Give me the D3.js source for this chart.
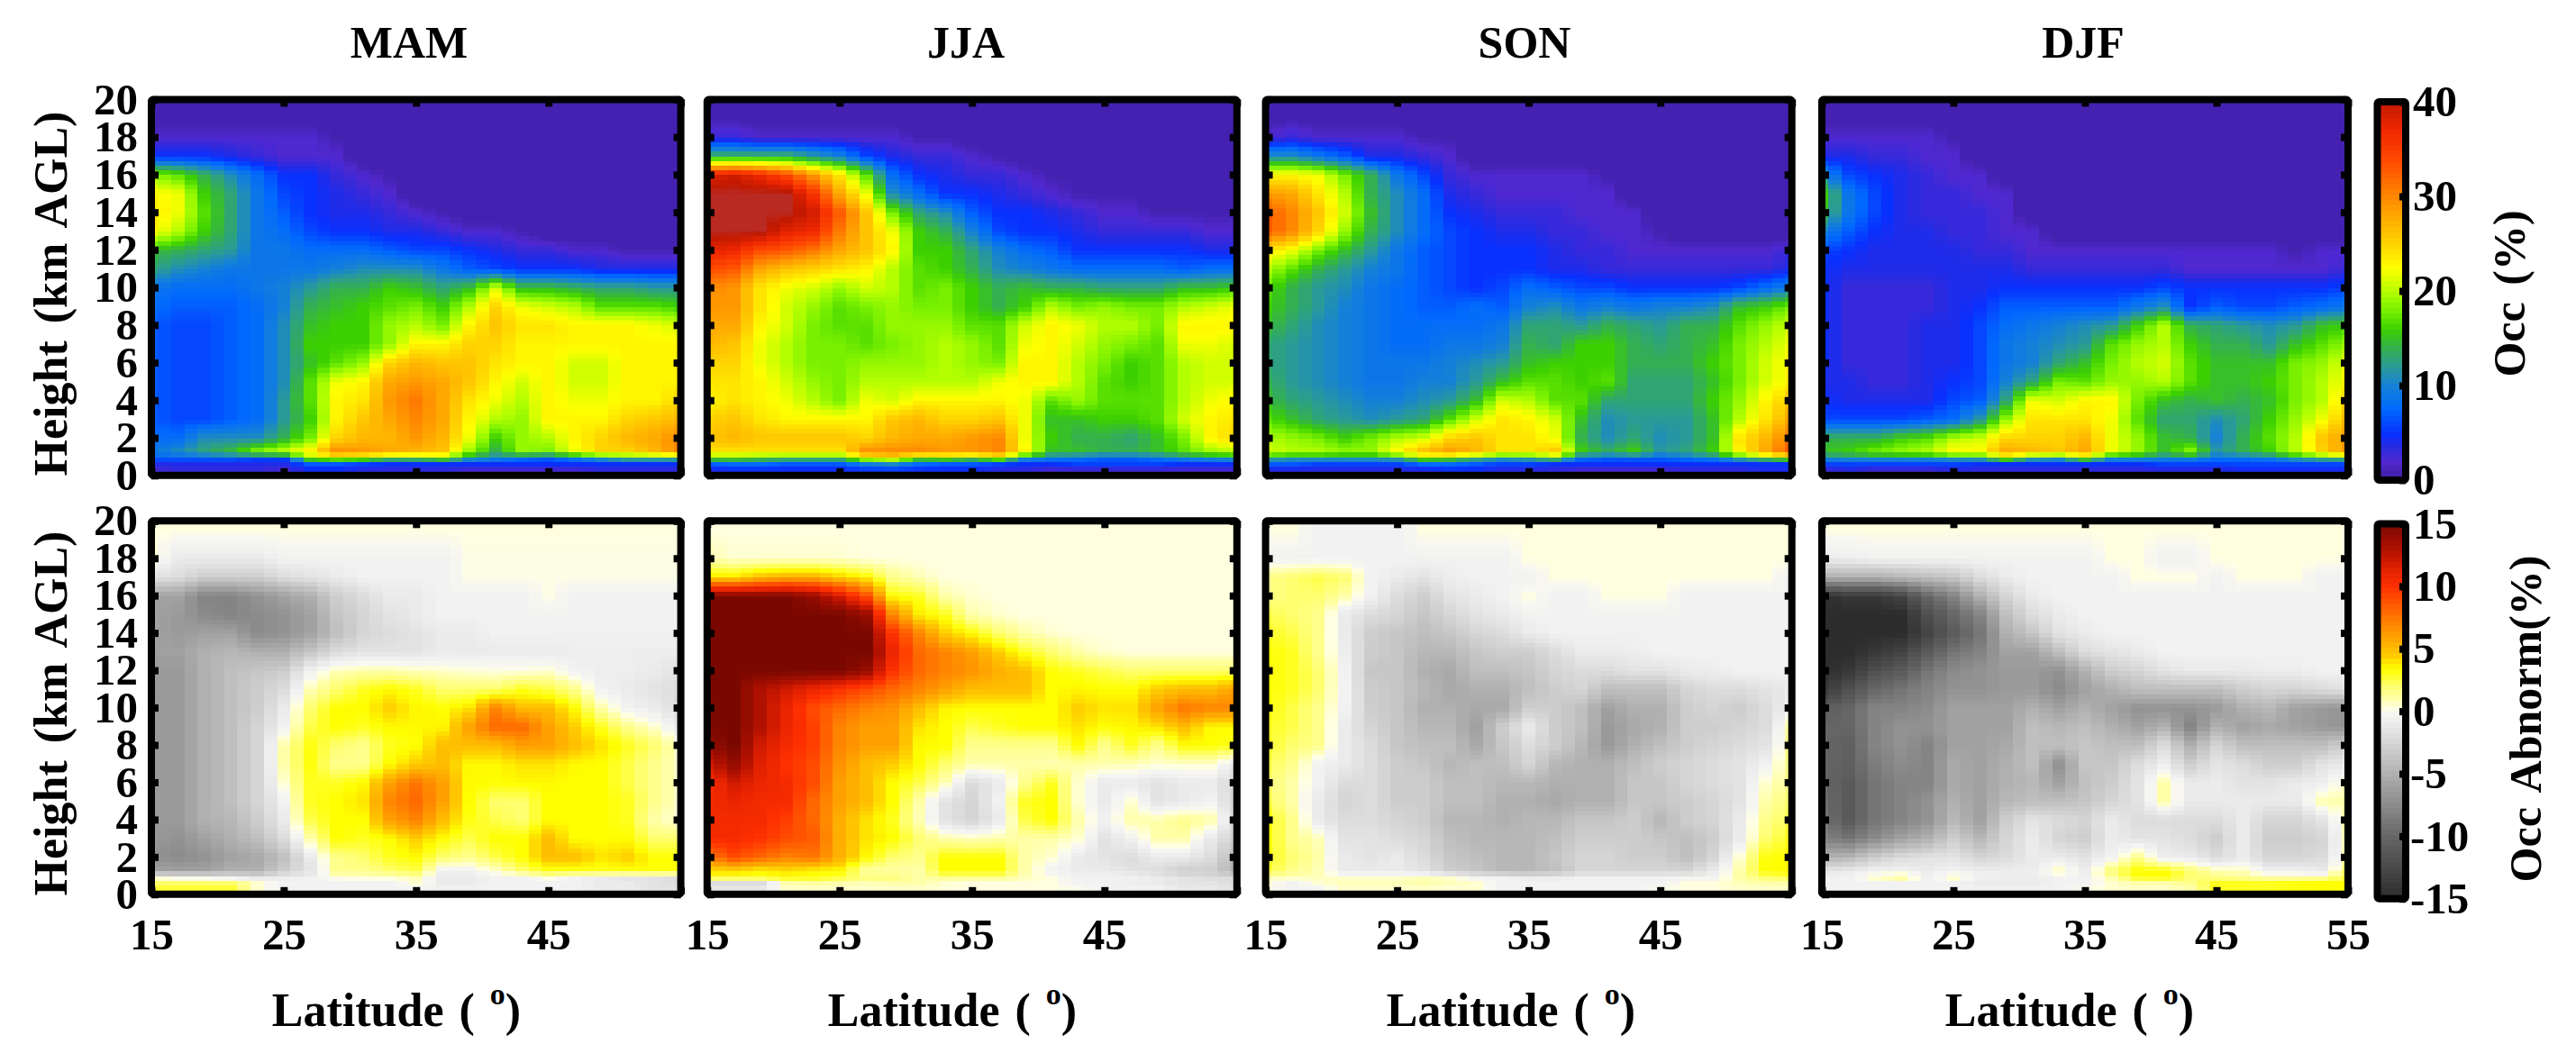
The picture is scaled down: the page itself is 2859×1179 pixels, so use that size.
<!DOCTYPE html>
<html>
<head>
<meta charset="utf-8">
<script src="https://cdn.jsdelivr.net/npm/d3@7"></script>
<style>
  html, body { margin: 0; background: #fff; }
  text { font-family: "Liberation Serif", serif; font-weight: bold; fill: #000; }
</style>
</head>
<body>
<div id="chart"></div>
<script>
// Seasonal occurrence (top row) and its abnormality (bottom row), latitude vs height

const seasons = ["MAM", "JJA", "SON", "DJF"];
const lats = [15,17,19,21,23,25,27,29,31,33,35,37,39,41,43,45,47,49,51,53,55];
// rows of every grid below run from the top of the panel down
const heights = [19.5,18,17,16,15,14,13,12,11,10,9,8,7,6,5,4,3,2,1.25,0.95,0.65,0.25];
const latTicks = [15,25,35,45,55];
const heightTicks = [0,2,4,6,8,10,12,14,16,18,20];
const occTicks = [0,10,20,30,40];
const abnTicks = [-15,-10,-5,0,5,10,15];

const occMAM = [
[0,0,0,0,0,0,0,0,0,0,0,0,0,0,0,0,0,0,0,0,0],
[2,2,2,2,2,2,2,1,0,0,0,0,0,0,0,0,0,0,0,0,0],
[5,5,5,4,3,2,2,2,0,0,0,0,0,0,0,0,0,0,0,0,0],
[19,17,14,11,8,5,5,3,2,1,0,0,0,0,0,0,0,0,0,0,0],
[23,22,16,13,9,6,5,4,3,2,0,0,0,0,0,0,0,0,0,0,0],
[24,22,17,13,9,7,5,4,4,3,2,1,0,0,0,0,0,0,0,0,0],
[23,20,16,13,9,8,6,5,5,4,4,3,2,2,1,0,0,0,0,0,0],
[15,14,13,12,9,9,8,8,8,7,6,6,5,4,3,3,2,2,1,1,1],
[13,11,10,9,9,9,9,10,11,11,11,9,7,6,5,5,5,4,4,4,4],
[9,8,8,8,9,10,12,14,14,16,15,13,15,21,15,15,14,13,13,12,12],
[8,7,7,7,8,10,14,15,16,17,18,16,20,25,22,21,20,17,17,17,16],
[7,6,6,7,8,11,15,16,16,19,20,18,23,26,24,24,23,23,23,22,21],
[7,6,6,7,8,11,16,16,16,19,23,23,25,25,23,23,23,23,23,23,23],
[7,6,6,7,8,11,15,17,19,25,27,26,26,24,23,23,21,21,23,23,23],
[7,6,6,7,8,11,17,22,23,28,29,28,26,23,21,23,21,21,23,23,23],
[7,6,6,7,8,12,17,23,24,29,31,28,24,22,20,23,22,22,23,23,25],
[7,6,6,7,8,12,16,23,26,28,30,28,23,20,19,23,23,23,25,26,27],
[8,8,11,11,11,14,18,25,27,27,29,27,22,16,19,20,23,25,27,28,30],
[9,11,13,15,19,21,24,30,29,28,27,26,19,14,19,18,22,25,25,27,30],
[7,7,7,7,6,6,18,20,19,16,16,18,12,10,8,7,9,12,14,14,14],
[4,4,4,4,4,4,7,7,6,5,5,5,5,5,5,5,5,5,5,5,5],
[2,3,3,3,3,2,4,4,3,3,3,3,2,2,2,2,2,3,3,3,3]];

const occJJA = [
[0,0,0,0,0,0,0,0,0,0,0,0,0,0,0,0,0,0,0,0,0],
[3,3,2,2,2,2,2,2,1,1,0,0,0,0,0,0,0,0,0,0,0],
[14,14,14,14,12,10,6,4,3,3,2,1,0,0,0,0,0,0,0,0,0],
[38,39,37,34,29,24,17,8,5,4,3,3,2,1,1,0,0,0,0,0,0],
[41,41,41,41,36,28,22,11,8,5,5,4,3,2,1,1,1,0,0,0,0],
[41,41,41,41,39,33,26,18,13,11,7,5,5,4,3,2,2,1,1,1,1],
[41,41,41,38,37,31,26,22,16,14,10,6,5,5,4,3,3,3,3,2,2],
[38,37,34,33,31,28,26,23,16,16,13,10,8,7,5,5,5,5,5,4,4],
[34,33,28,26,25,24,23,20,17,16,14,11,10,9,8,8,8,8,7,8,8],
[30,29,24,22,21,19,21,20,17,18,16,14,15,14,14,13,13,13,15,15,16],
[29,29,24,21,19,17,18,19,18,18,16,14,16,20,18,19,18,18,20,21,22],
[28,28,23,21,18,17,17,19,19,19,17,17,21,23,22,20,20,18,23,23,23],
[27,26,22,20,18,18,17,18,19,20,19,17,22,23,21,19,18,17,22,22,21],
[25,25,22,20,18,18,19,19,19,20,19,18,23,23,20,18,16,17,20,21,21],
[24,24,23,21,19,18,20,20,20,20,20,22,23,23,20,17,16,17,20,21,21],
[23,24,23,22,20,18,22,21,23,23,23,23,22,17,19,17,17,17,20,22,23],
[25,26,24,23,23,23,23,26,27,25,25,26,22,15,15,16,16,17,21,23,24],
[26,27,26,26,26,26,25,27,28,28,29,30,22,16,14,14,13,15,18,23,25],
[24,24,24,24,24,24,30,30,30,29,29,30,23,15,15,14,14,15,17,19,20],
[17,17,16,15,15,15,21,23,17,18,16,20,11,9,8,7,7,8,10,11,12],
[7,8,8,7,7,7,10,11,8,7,7,6,5,5,6,6,6,6,5,5,5],
[3,4,4,4,4,4,4,4,4,4,4,3,3,2,2,2,2,2,2,2,2]];

const occSON = [
[0,0,0,0,0,0,0,0,0,0,0,0,0,0,0,0,0,0,0,0,0],
[2,3,2,2,2,2,1,1,0,0,0,0,0,0,0,0,0,0,0,0,0],
[11,11,9,7,4,4,3,2,0,0,0,0,0,0,0,0,0,0,0,0,0],
[23,23,22,18,14,9,6,3,2,2,2,2,2,1,0,0,0,0,0,0,0],
[29,28,24,20,14,11,8,4,3,2,2,2,2,2,0,0,0,0,0,0,0],
[33,30,26,21,15,11,8,5,4,3,3,3,2,2,2,0,0,0,0,0,0],
[33,30,25,19,14,11,8,6,5,4,4,3,3,2,2,1,0,0,0,0,0],
[24,22,18,15,12,9,7,6,5,5,5,4,3,3,2,2,2,2,2,2,3],
[20,17,14,12,10,9,7,6,5,5,5,4,4,3,3,3,3,3,3,3,4],
[17,14,12,11,9,8,7,6,5,6,8,7,6,6,5,5,5,5,6,8,10],
[16,14,12,10,9,8,7,7,8,7,10,11,9,10,9,10,10,11,15,16,18],
[15,13,11,10,9,8,8,8,8,9,13,13,12,14,13,12,14,14,17,19,21],
[13,12,11,10,9,8,8,9,9,10,14,13,16,16,14,13,14,15,18,20,22],
[13,12,11,10,9,9,9,10,11,12,15,16,16,16,14,14,14,16,18,21,23],
[14,12,11,10,9,9,10,10,12,15,17,17,16,17,13,13,13,15,18,21,23],
[15,13,12,11,10,10,11,12,15,21,20,17,17,13,13,13,13,16,19,23,26],
[17,15,13,12,11,12,13,17,21,24,23,21,15,11,12,12,12,15,20,24,28],
[20,19,18,16,18,20,21,25,26,24,24,22,14,11,13,11,12,15,24,27,31],
[21,20,20,19,19,23,27,29,27,24,24,26,16,14,16,12,13,16,23,28,33],
[13,12,12,12,12,13,18,17,14,12,13,16,8,7,7,7,8,9,13,16,19],
[7,7,6,6,6,6,8,8,7,6,6,5,5,5,5,5,5,5,5,5,5],
[3,3,3,3,3,3,3,4,4,3,3,3,2,2,2,2,3,3,3,4,4]];

const occDJF = [
[0,0,0,0,0,0,0,0,0,0,0,0,0,0,0,0,0,0,0,0,0],
[2,2,2,2,2,1,0,0,0,0,0,0,0,0,0,0,0,0,0,0,0],
[4,4,3,3,2,2,0,0,0,0,0,0,0,0,0,0,0,0,0,0,0],
[11,6,5,4,3,2,2,0,0,0,0,0,0,0,0,0,0,0,0,0,0],
[16,9,6,4,3,3,2,2,0,0,0,0,0,0,0,0,0,0,0,0,0],
[15,9,6,4,3,3,3,2,0,0,0,0,0,0,0,0,0,0,0,0,0],
[10,7,5,4,4,3,3,2,2,0,0,0,0,0,0,0,0,0,0,0,0],
[6,5,4,4,4,4,3,3,2,2,2,2,2,2,2,2,2,2,1,2,2],
[5,4,4,4,4,4,4,4,3,3,3,3,3,3,2,2,2,2,2,2,3],
[5,3,3,3,3,4,4,5,5,5,5,5,5,6,5,5,5,5,5,5,6],
[5,3,3,3,3,4,5,7,7,7,7,7,9,11,5,7,6,6,7,8,9],
[5,3,3,3,4,4,6,8,9,10,11,12,16,20,14,13,12,11,12,15,16],
[5,3,3,3,4,4,6,9,10,11,12,17,19,20,16,14,14,12,15,17,19],
[5,3,3,3,4,4,6,9,10,13,15,18,20,21,17,15,15,15,18,19,22],
[4,4,3,3,4,5,6,10,13,18,17,19,19,20,17,15,15,16,18,20,23],
[5,4,4,4,4,6,7,13,22,21,23,23,18,15,14,15,14,15,18,20,25],
[6,6,6,6,7,8,12,19,24,24,24,22,17,13,13,11,13,16,19,22,27],
[14,14,14,16,17,20,21,25,25,25,27,22,19,15,14,10,14,17,20,26,29],
[15,16,18,19,20,23,23,28,27,26,28,22,19,15,19,12,14,16,20,25,29],
[10,11,11,11,11,12,13,19,13,12,18,11,11,10,10,8,8,9,12,14,15],
[6,6,6,6,6,6,5,5,5,5,5,5,5,6,6,6,6,6,6,6,6],
[2,3,2,2,2,3,3,3,3,3,3,3,3,3,3,3,4,4,4,4,4]];

const abnMAM = [
[.3,.3,.3,.3,.3,.3,.3,.3,.3,.3,.3,.3,.3,.3,.3,.3,.3,.3,.3,.3,.3],
[.5,-1,-1,-1,-1,-.5,-.5,-.5,-.5,-.5,-.5,-.5,.2,.2,.2,.2,.2,.2,.2,.2,.2],
[-1.5,-2,-3,-3,-3,-2,-1.5,-1,-.5,-.5,-.5,-.5,.2,.2,.2,.2,.2,.2,.2,.2,.2],
[-6,-6,-8,-8,-7,-6,-5,-3,-2,-1,-1,-.5,-.5,-.5,-.5,.2,-.5,-.5,-.5,-.5,-.5],
[-6,-6.5,-7.5,-8,-7.5,-7,-6,-3.5,-2.5,-1.5,-1,-.5,-.5,-.5,-.5,-.5,-.5,-.5,-.5,-.5,-.5],
[-6,-6.5,-6,-6,-7.5,-7,-6,-4,-2.5,-2,-1.5,-1,-1,-.5,-.5,-.5,-.5,-.5,-.5,-.5,-.5],
[-6,-6,-5,-4.5,-5,-5,-3.5,-2,-1.5,-1.5,-1.5,-1,-1,-1,-1,-1,-.8,-.8,-.8,-.8,-.8],
[-6.5,-6.5,-5,-4,-3.5,-3,-.5,.8,1,1,.8,.6,.4,.3,.3,.5,-.5,-.8,-.8,-1,-1.5],
[-6.5,-6.5,-5,-4,-3,-2,.8,2,3,3.5,3,2,2,2,3,2.5,1.5,-.5,-1,-1.5,-2],
[-6.5,-6.5,-5,-4,-3,-1,2,3.4,3.5,4.5,3.6,3.4,4,7,5,5,3.4,1,-.5,-1,-2],
[-6.5,-6.5,-5,-4,-2.5,-.5,2.5,3.4,3,3.5,3.5,3.6,6,8,8,6,4.5,3,1.5,.5,-1],
[-6.5,-6.5,-5,-4,-2.5,1,3.2,2,1.5,3,3.4,5,5,5,6,6,5,4,3,2,.5],
[-6.5,-6.5,-5,-4,-2.5,1,3.2,1.5,1.5,3.4,4.5,5,3.5,3.5,4,4,3.5,3.4,2.5,1.5,.5],
[-6.5,-6.5,-5,-4,-2.5,.5,3,3,3.5,6,7.5,6,3.5,3.4,3.5,3.5,3.4,3.4,2.5,1.5,.5],
[-6.5,-6.5,-5,-4,-2.5,-.5,3,3.4,4,7,8,6,3.4,2,2,3.4,3.4,3.4,3,1.5,.5],
[-6.5,-6.5,-5,-4.5,-3,-1,2.5,3.4,3.4,6,7,5,3.2,2.5,2,3.4,3.4,3.4,3,1,.3],
[-6.5,-7,-6,-5,-4,-2,1,3.4,3,3.4,4.5,3.4,2.5,3.4,3.4,5,3.4,3.4,3.4,2,2],
[-7,-7.5,-7,-6,-5.5,-4,-1,1.5,2,3,3.4,2,1.5,2.5,3.4,5,5,4,4.5,3.4,3.4],
[-6,-6,-6,-5,-5,-3,-1.5,1.5,1.5,2,2.5,-.5,-.5,.5,2,3,3,3,3.2,3.4,3.4],
[.3,-.5,-.5,-1,-1.5,-1,-.5,.3,.5,.5,.8,-1,-1,-.5,-.5,.5,-.5,-1,-1.5,-1.5,-2],
[2,2,2,2,.5,-.5,-.5,-.5,-.5,-.5,.5,-1,-1,-.5,-.5,-.5,-.5,-1,-1,-1.5,-2],
[3,3,3,3,.5,-.5,-.5,-.5,-.5,-.5,-.5,-.5,-.5,-.5,-.5,-.5,-.5,-1,-1,-1.5,-1.5]];

const abnJJA = [
[.3,.3,.3,.3,.3,.3,.3,.3,.3,.3,.3,.3,.3,.3,.3,.3,.3,.3,.3,.3,.3],
[1,.5,.5,.5,.5,.5,.3,.3,.3,.3,.3,.3,.3,.3,.3,.3,.3,.3,.3,.3,.3],
[4,4,5,5.5,5.5,4.5,3.5,1.5,.8,.3,.3,.3,.3,.3,.3,.3,.3,.3,.3,.3,.3],
[15,15,15,15,14,12,9,3.4,3,1,.5,.3,.3,.3,.3,.3,.3,.3,.3,.3,.3],
[15,15,15,15,15,15,14,7,3.8,3,1,.5,.3,.3,.3,.3,.3,.3,.3,.3,.3],
[15,15,15,15,15,15,15,10,7,4.5,3.4,2,1,.5,.3,.3,.3,.3,.3,.3,.3],
[15,15,15,15,15,15,15,11,8,7,6,4.5,3,2,1,.5,.3,.3,.3,.3,.3],
[15,15,15,15,15,15,14,10,8,7,6.5,5.5,5,3.4,3,2.5,2,2,2,2,2],
[15,15,13,12,11,10,9,8,7,6,5,5,5,3.4,3.6,3.4,3.4,4.5,5,5,6],
[15,15,13,11,9,8,7,6.5,5,3.6,3.4,3.4,3.4,3.4,4.5,4,4,6,7.5,7,7],
[15,15,13,11,9.5,7,6,6,4,3.4,2.5,3,3.4,3.4,4,3.4,3.6,4,5,3.5,3.4],
[14,15,12,10.5,9.5,7,6,6,3.5,3.4,1.5,1.5,1.5,1.5,3.4,1.5,3,1.5,3.4,3.4,3],
[12,14,11.5,10,9,6.5,5,4.5,3.4,2,1,1,1,.8,1,1,.8,.5,.5,.5,-1],
[10,12,11,10.5,9,6,5,3.4,2.5,.8,-2,-1,1.5,3,.5,-1,-1,-1.5,-1,-1,-2.5],
[10.5,11,10.5,10.5,8,6,5,3.4,1,-1.5,-2.5,-.5,3,3.4,.5,-1,.5,-1.5,-1,-.5,-2.5],
[10.5,10.5,10.5,9.5,8,5.5,4,3,.8,-1.5,-2.5,-1,2.5,3.4,1,-.5,1,1,1.5,1,-2],
[10.5,10.5,10,9,8.5,5.5,4,3.4,2,1,.8,1,1,1,.5,-1.5,-.5,1,1,-1,-3],
[7,9,8,7,7.5,5.5,3.5,2,1.5,3.4,3.4,3.4,1,.5,-1,-1.5,-2,-1,-1,-2,-4.5],
[4,4,3.5,4,3.5,3.4,1,1,1,3.4,3.4,3.4,1,-.5,-1,-1,-1.5,-2,-3,-3,-5],
[3.4,3.4,3.4,3.4,3.4,2.8,2,2,1,1.5,1.5,1.5,.8,.3,-.5,-.5,-.5,-1,-1.5,-2,-2],
[-2,-2,-2,1,1.2,1,.8,1,1,.5,.3,.3,.3,.3,-.5,-.5,-.8,-1,-1.5,-1.5,-2],
[-1,-1,-1,.5,.5,.5,.5,.5,.5,.3,.3,.3,.3,.3,.3,-.5,-.5,-.5,-1,-1,-1.5]];

const abnSON = [
[.3,.3,-.5,-.5,-.5,-.5,.3,.3,.3,.3,.3,.3,.3,.3,.3,.3,.3,.3,.3,.3,.3],
[-.5,-.5,-.5,-.5,-.5,-.5,-.5,-.5,-.5,-.5,.3,.3,.3,.3,.3,.3,.3,.3,.3,.3,.3],
[1.5,2,2.5,2,-.5,-1,-1.5,-.8,-.5,-.5,-.5,.3,.3,.3,.3,.3,.3,.3,.3,.3,-.5],
[1.5,2,2,1,-.5,-2,-3,-1.5,-1,-.5,.3,-.5,-.5,.3,.3,.3,-.5,-.5,-.5,-.5,-.5],
[2.5,2,1.5,-1,-2,-2.5,-3.5,-2.5,-1.5,-1,-.5,-.5,-.5,-.5,-.5,-.5,-.5,-.5,-.5,-.5,-.5],
[3,2.5,1.5,-1,-3,-3.5,-4,-3.5,-2.5,-2,-1,-.5,-.5,-.5,-.5,-.5,-.5,-.5,-.5,-.5,-.5],
[3.4,3,1.5,-.8,-3,-3.5,-4.5,-4.5,-3.5,-3,-3,-2,-1,-1,-.8,-.5,-.5,-.5,-.5,-.5,-.5],
[3.4,3,2,-.5,-3.5,-3.5,-5,-5.5,-4,-4,-3.5,-2.5,-2,-2,-1.5,-1.5,-1,-.8,-.5,-.5,-.5],
[3.4,3,2,-.5,-3,-3.5,-4.5,-5.5,-5,-5,-4,-3,-2.5,-4,-4,-4,-2.5,-2,-2,-1.5,-1],
[3.4,2.5,1.5,-.5,-3,-3.5,-5,-5,-5.5,-5.5,-3,-3,-4,-6,-5,-5,-3,-2.5,-3,-2,-.5],
[3,2.5,1.5,-1,-2.5,-3.5,-4.5,-4.5,-6,-3,-1,-3,-4,-6.5,-5.5,-5,-3,-3,-2.5,-2,1],
[3,2,1.5,-1,-2,-3.5,-4,-4,-5.5,-3.5,-2,-3,-4.5,-6.5,-5,-4,-3,-2.5,-2,-1.5,1.5],
[2.5,1.5,-.5,-1,-2,-3,-3.5,-4.5,-4,-4,-2.5,-4.5,-5,-5,-4,-3,-2.5,-2,-1.5,-.5,1.5],
[2,1,-.5,-2,-2,-3,-3,-4,-4,-4.5,-4.5,-5,-5,-5,-3.5,-3.5,-2.5,-2,-1.5,.5,1.5],
[2.5,1,-1,-2.5,-2,-3,-3,-4,-4,-5,-5,-5.5,-5,-5,-3.5,-3.5,-3,-2.5,-1.5,1,2],
[3.4,1.5,-1,-2,-2,-2.5,-3,-4.5,-4.5,-5,-4.5,-4.5,-3.5,-3.5,-3,-4.5,-3,-2.5,-1,1.5,2.5],
[3.4,1.5,.8,-1.5,-1.5,-2,-2.5,-4,-4.5,-4.5,-4.5,-4,-3,-3,-3,-3.5,-4,-3,-1,2,3],
[3.2,2,1,-1,-1.5,-1,-2,-3.5,-4,-4.5,-4.5,-3.5,-2.5,-2.5,-3,-3,-4,-2.5,.5,3.2,3.5],
[2.8,1.5,.8,-1,-1,-1,-1.5,-3,-3.5,-4.5,-4.5,-4,-2.5,-2.5,-2.5,-2.5,-2.5,-1,1,3.4,3.5],
[.8,.8,.8,.5,.5,.5,.8,.5,-.5,-.5,-1,-1,-.5,-.5,-.5,-.5,-.5,-.5,1,2,2.5],
[.5,-.5,.5,.8,.8,.8,1,.8,.5,-.5,-.5,-.5,-.5,-.5,-.5,-.5,.3,.3,.8,1,1],
[.3,-.5,-.5,.5,.5,.5,.5,.3,.5,-.5,-.5,-.5,-.5,-.5,-.5,.3,.3,.3,.5,.5,.5]];

const abnDJF = [
[.3,.3,.3,.3,.3,.3,.3,.3,.3,.3,.3,.3,.3,.3,.3,.3,.3,.3,.3,.3,.3],
[-1,-.8,-.5,-.5,-.5,-.5,-.5,-.5,-.5,-.5,-.5,.3,.3,-.5,-.5,.3,.3,.3,.3,.3,.3],
[-5,-5,-5,-4.5,-4,-3.5,-2,-1,-.5,-.5,-.5,-.5,.3,.3,.3,-.5,.3,.3,.3,-.5,-.5],
[-15,-14,-14,-13,-10,-8,-5,-2.5,-1,-.5,-.5,-.5,-.5,-.5,-.5,-.5,-.5,-.5,-.5,-.5,-.5],
[-15,-15,-15,-15,-12,-10,-8,-4,-2,-1,-.5,-.5,-.5,-.5,-.5,-.5,-.5,-.5,-.5,-.5,-.5],
[-15,-15,-15,-15,-13,-11,-9,-5,-3.5,-1.5,-1,-.5,-.5,-.5,-.5,-.5,-.5,-.5,-.5,-.5,-.5],
[-15,-15,-14,-13,-11,-9,-8,-6,-6,-4,-2,-1.5,-1,-.5,-.5,-.5,-.5,-.5,-.5,-.5,-.5],
[-15,-14,-12,-11,-9,-7.5,-7,-6.5,-6.5,-7,-5,-3,-2.5,-1.5,-1,-1,-1,-.8,-.8,-.5,-.5],
[-14,-12,-10,-9,-8,-7,-7,-6.5,-6.5,-7.5,-6,-5,-4,-4,-4,-4,-3,-2.5,-2.5,-2,-1.5],
[-11,-10,-8,-8,-7.5,-6,-6,-6,-5,-6,-5,-6,-7,-7,-7,-6.5,-5,-4.5,-6,-6.5,-7],
[-10,-10,-8,-7,-7,-6,-6,-6,-4,-4.5,-4,-5,-6,-5,-8,-5,-6,-5.5,-6,-6.5,-7],
[-10,-10.5,-8,-7,-8,-6,-6,-5.5,-4,-4,-3.5,-4,-4,-2,-5,-2.5,-4,-4,-4,-4,-2.5],
[-10,-10.5,-8.5,-7.5,-8,-5.5,-6,-5,-4,-7,-3.5,-3.5,-2,-.8,-3,-1.5,-2,-3,-3,-1.5,-1],
[-10,-11,-9,-8,-8,-5.5,-6,-5,-4.5,-6,-4,-3,-1.5,1,-1,-1,-1.5,-1.5,-1,-.8,.8],
[-9.5,-11,-9,-8,-7,-5,-6,-4.5,-4,-4,-3.5,-2.5,-1.5,1,-1,-1,-1,-1,-1,1,1],
[-9,-11,-9,-8,-7,-4.5,-6,-3,-1.5,-2,-2.5,-1,-2,-2,-2,-2,-1,-2.5,-2.5,-1.5,1],
[-8,-9,-7.5,-6,-5,-3,-4.5,-2.5,-1,-2.5,-3,-1,-1.5,-1.5,-2,-3,-1,-3,-3,-2.5,.8],
[-5,-4.5,-3,-2,-1.5,-1.5,-2.5,-2,-1,-1,-1.5,-.5,1.5,-.8,-1,-2,-1,-2.5,-2.5,-2,.8],
[-1.5,-1,-.5,-.5,-1,-.5,-.8,-.8,-.8,.8,-.8,2,3.4,3.4,2,1,.8,-.5,-.5,-1,2],
[-.5,-.5,.8,1.5,-.5,.8,-.5,-.8,-.8,-.5,-.5,1,3.2,3.4,2,1.5,1.2,.8,.8,1,2.5],
[-.5,-.5,-.5,-.5,-.5,-.5,-1,-1,-1,-.5,-.5,.5,1,1,1.5,3,3,3,3.2,3.4,3.4],
[-.5,-.5,-.5,-.5,-.5,-.5,-.5,-.5,-.5,-.5,.3,.5,.5,.5,.8,3,3,3,3.2,3.4,3.4]];

const occGrids = [occMAM, occJJA, occSON, occDJF];
const abnGrids = [abnMAM, abnJJA, abnSON, abnDJF];

// colour maps
const occColor = d3.scaleLinear()
  .domain([0,1,2,3.5,5,7.5,10,12,14,16,18,20,22.5,25,28,31,34,37,40,41])
  .range(["#4421b0","#4421b0","#5028d0","#2a2ae0","#0830ff","#0068ff","#1480d8","#2a9a98","#34b050","#3cd000",
          "#78f000","#b4ff00","#ffff00","#ffd400","#ffa800","#ff7800","#ff4800","#f02800","#c01800","#b82a22"])
  .clamp(true);
const abnColor = d3.scaleLinear()
  .domain([-15,-10,-5,-0.5,0,0.3,1,2,3.4,4.5,6,8,10,11.5,13,15])
  .range(["#2c2c2c","#666666","#b0b0b0","#f2f2f2","#f8f8f0","#ffffe0","#ffffa8","#ffff70","#ffff00","#ffcc00",
          "#ffa000","#ff6800","#ff3000","#e02000","#b01000","#7a0800"])
  .clamp(true);

const svg = d3.select("#chart").append("svg")
  .attr("width", 2859)
  .attr("height", 1179)
  .style("display", "block");

const panelX = [[168, 755.6], [784.8, 1372.8], [1404.6, 1988.7], [2022, 2606]];
const rowY = [[527.8, 110.4], [992.8, 578.3]];
const titleX = [454, 1072, 1692, 2312];
const latLabelX = [440, 1057, 1677, 2297];

// grid index scales, the picture is shaded between read values like the original
const latIndex = d3.scaleLinear().domain(lats).range(d3.range(lats.length)).clamp(true);
const heightIndex = d3.scaleLinear().domain(heights).range(d3.range(heights.length)).clamp(true);

function valueAt(grid, lat, h) {
  const fx = latIndex(lat), fy = heightIndex(h);
  const x0 = Math.floor(fx), y0 = Math.floor(fy);
  const x1 = Math.min(x0 + 1, lats.length - 1), y1 = Math.min(y0 + 1, heights.length - 1);
  const top = d3.interpolateNumber(grid[y0][x0], grid[y0][x1])(fx - x0);
  const bottom = d3.interpolateNumber(grid[y1][x0], grid[y1][x1])(fx - x0);
  return d3.interpolateNumber(top, bottom)(fy - y0);
}

const cellLats = d3.range(15, 55.5, 1);
const cellHeights = d3.range(0, 20, 0.25);
const cells = cellLats.flatMap(lat => cellHeights.map(h => ({ lat, h })));

function styleTicks(g) {
  g.select(".domain").remove();
  g.selectAll(".tick line").attr("stroke", "#000").attr("stroke-width", 8);
  g.selectAll(".tick text").attr("font-size", 49).attr("fill", "#000");
}

function drawPanel(col, row, grid, color) {
  const [x0, x1] = panelX[col];
  const [y0, y1] = rowY[row];
  const x = d3.scaleLinear().domain([15, 55]).range([x0, x1]);
  const y = d3.scaleLinear().domain([0, 20]).range([y0, y1]);
  const clipId = `clip-${row}-${col}`;
  svg.append("clipPath").attr("id", clipId)
    .append("rect").attr("x", x0).attr("y", y1).attr("width", x1 - x0).attr("height", y0 - y1);

  const g = svg.append("g").attr("clip-path", `url(#${clipId})`);
  const cw = x(16) - x(15), ch = y(0) - y(0.25);
  g.selectAll("rect").data(cells).join("rect")
    .attr("x", d => x(d.lat) - cw / 2)
    .attr("y", d => y(d.h) - ch)
    .attr("width", cw + 0.6)
    .attr("height", ch + 0.6)
    .attr("shape-rendering", "crispEdges")
    .attr("fill", d => color(valueAt(grid, d.lat, d.h + 0.125)));

  svg.append("rect")
    .attr("x", x0).attr("y", y1).attr("width", x1 - x0).attr("height", y0 - y1)
    .attr("rx", 2)
    .attr("fill", "none").attr("stroke", "#000").attr("stroke-width", 8);

  // inward ticks on all four sides, labels only on the outer edges
  const labelled = row === 1;
  const xLabels = col === 3 ? latTicks : latTicks.slice(0, 4);
  svg.append("g").attr("transform", `translate(0,${y0})`)
    .call(d3.axisBottom(x).tickValues(latTicks).tickSizeInner(-8).tickSizeOuter(0).tickPadding(26)
      .tickFormat(d => (labelled && xLabels.includes(d)) ? d : ""))
    .call(styleTicks);
  svg.append("g").attr("transform", `translate(0,${y1})`)
    .call(d3.axisTop(x).tickValues(latTicks).tickSizeInner(-8).tickSizeOuter(0).tickFormat(""))
    .call(styleTicks);
  svg.append("g").attr("transform", `translate(${x0},0)`)
    .call(d3.axisLeft(y).tickValues(heightTicks).tickSizeInner(-8).tickSizeOuter(0).tickPadding(15)
      .tickFormat(d => col === 0 ? d : ""))
    .call(styleTicks);
  svg.append("g").attr("transform", `translate(${x1},0)`)
    .call(d3.axisRight(y).tickValues(heightTicks).tickSizeInner(-8).tickSizeOuter(0).tickFormat(""))
    .call(styleTicks);
}

occGrids.forEach((grid, i) => drawPanel(i, 0, grid, occColor));
abnGrids.forEach((grid, i) => drawPanel(i, 1, grid, abnColor));

// colour bars
function drawBar(y0, y1, domain, ticks, color) {
  const xL = 2638.5, xR = 2670;
  const y = d3.scaleLinear().domain(domain).range([y0, y1]);
  const step = (domain[1] - domain[0]) / 70;
  const g = svg.append("g");
  g.selectAll("rect").data(d3.range(domain[0], domain[1], step)).join("rect")
    .attr("x", xL)
    .attr("y", d => y(d + step))
    .attr("width", xR - xL)
    .attr("height", (y0 - y1) / 70 + 0.6)
    .attr("shape-rendering", "crispEdges")
    .attr("fill", d => color(d + step / 2));
  svg.append("rect")
    .attr("x", xL).attr("y", y1).attr("width", xR - xL).attr("height", y0 - y1)
    .attr("rx", 2)
    .attr("fill", "none").attr("stroke", "#000").attr("stroke-width", 8);
  svg.append("g").attr("transform", `translate(${xR},0)`)
    .call(d3.axisRight(y).tickValues(ticks).tickSizeInner(-7).tickSizeOuter(0).tickPadding(8).tickFormat(d3.format("d")))
    .call(styleTicks)
    .call(a => a.selectAll(".tick text").text(d => String(d)).attr("x", d => d < 0 ? 5 : 8));
}
drawBar(533, 113, [0, 40], occTicks, occColor);
drawBar(997.7, 581.5, [-15, 15], abnTicks, abnColor);

// titles and axis names
seasons.forEach((s, i) => {
  svg.append("text").attr("x", titleX[i]).attr("y", 64)
    .attr("text-anchor", "middle").attr("font-size", 50).text(s);

  const t = svg.append("text").attr("x", latLabelX[i]).attr("y", 1139)
    .attr("text-anchor", "middle").attr("font-size", 52).attr("word-spacing", 4);
  t.append("tspan").text("Latitude (\u00a0");
  t.append("tspan").attr("dy", -24).attr("font-size", 34).text("o");
  t.append("tspan").attr("dy", 24).text(")");
});

function rotated(x, y, size, label) {
  svg.append("text")
    .attr("transform", `translate(${x},${y}) rotate(-90)`)
    .attr("text-anchor", "middle")
    .attr("font-size", size)
    .attr("word-spacing", 6)
    .text(label);
}
rotated(74, 326, 52, "Height (km AGL)");
rotated(74, 792, 52, "Height (km AGL)");
rotated(2802, 326, 50, "Occ (%)");
rotated(2820, 798, 50, "Occ Abnorm(%)");
</script>
</body>
</html>
